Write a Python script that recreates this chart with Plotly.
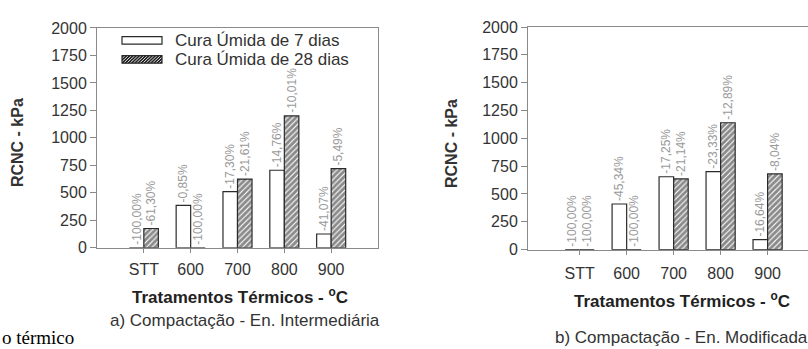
import plotly.graph_objects as go

# Heat-treatment categories
categorias = ["STT", "600", "700", "800", "900"]

# a) Compactação - Energia Intermediária (kPa)
a_7dias = [0, 385, 510, 705, 125]
a_28dias = [175, 0, 625, 1200, 720]
a_rot_7 = ["-100,00%", "-0,85%", "-17,30%", "-14,76%", "-41,07%"]
a_rot_28 = ["-61,30%", "-100,00%", "-21,61%", "-10,01%", "-5,49%"]

# b) Compactação - Energia Modificada (kPa)
b_7dias = [0, 410, 655, 700, 90]
b_28dias = [0, 0, 635, 1140, 680]
b_rot_7 = ["-100,00%", "-45,34%", "-17,25%", "-23,33%", "-16,64%"]
b_rot_28 = ["-100,00%", "-100,00%", "-21,14%", "-12,89%", "-8,04%"]

series_nomes = ["Cura Úmida de 7 dias", "Cura Úmida de 28 dias"]

W, H = 808, 349
FONT = "Liberation Sans, Arial, sans-serif"
EDGE = "#2a2a2a"
LABEL_GRAY = "#9a9a9a"
HATCH = dict(shape="/", fgcolor="#151515", bgcolor="white", size=4, solidity=0.72)


def px(x):
    return x / W


def py(y):
    return 1 - y / H


fig = go.Figure()


def add_pair(v7, v28, r7, r28, xa, ya):
    fig.add_trace(go.Bar(
        x=categorias, y=v7, name=series_nomes[0],
        xaxis=xa, yaxis=ya, showlegend=False,
        marker=dict(color="white", line=dict(color=EDGE, width=1.2)),
        text=r7, textposition="outside", textangle=-90,
        constraintext="none", cliponaxis=False,
        textfont=dict(family=FONT, size=12, color=LABEL_GRAY),
    ))
    fig.add_trace(go.Bar(
        x=categorias, y=v28, name=series_nomes[1],
        xaxis=xa, yaxis=ya, showlegend=False,
        marker=dict(color="white", line=dict(color=EDGE, width=1.2), pattern=HATCH),
        text=r28, textposition="outside", textangle=-90,
        constraintext="none", cliponaxis=False,
        textfont=dict(family=FONT, size=12, color=LABEL_GRAY),
    ))


add_pair(a_7dias, a_28dias, a_rot_7, a_rot_28, "x", "y")
add_pair(b_7dias, b_28dias, b_rot_7, b_rot_28, "x2", "y2")

axis_common = dict(
    showline=True, linecolor="#8a8a8a", linewidth=1,
    showgrid=False, zeroline=False,
    ticks="outside", tickcolor="#8a8a8a",
    tickfont=dict(family=FONT, size=16, color="#333333"),
)

fig.update_layout(
    width=W, height=H, autosize=False,
    margin=dict(l=0, r=0, t=0, b=0),
    paper_bgcolor="white", plot_bgcolor="white",
    barmode="group", bargap=0.38, bargroupgap=0,
    font=dict(family=FONT, color="#333333"),
    showlegend=False,
    xaxis=dict(domain=[px(97), px(378)], anchor="y", type="category",
               range=[-1.0, 5.0], mirror=True, ticklen=4,
               ticklabelstandoff=3, **axis_common),
    yaxis=dict(domain=[py(252), py(21)], anchor="x", range=[0, 2000],
               tickvals=list(range(0, 2001, 250)), mirror=True, ticklen=6,
               **axis_common),
    xaxis2=dict(domain=[px(528), 1.0], anchor="y2", type="category",
                range=[-1.1, 4.86], mirror=True, ticklen=4,
                ticklabelstandoff=5, **axis_common),
    yaxis2=dict(domain=[py(254), py(20)], anchor="x2", range=[0, 2000],
                tickvals=list(range(0, 2001, 250)), mirror=False, ticklen=6,
                **axis_common),
)

# Legend drawn inside panel a): wide key boxes followed by the series names
KEY_X0, KEY_X1 = 122, 162
ROWS = [34, 54]
shapes = []
shapes.append(dict(type="rect", xref="paper", yref="paper",
                   x0=px(KEY_X0), x1=px(KEY_X1), y0=py(ROWS[0] + 4), y1=py(ROWS[0] - 4),
                   line=dict(color=EDGE, width=1.2), fillcolor="white"))
yb, yt = ROWS[1] + 4, ROWS[1] - 4
shapes.append(dict(type="rect", xref="paper", yref="paper",
                   x0=px(KEY_X0), x1=px(KEY_X1), y0=py(yb), y1=py(yt),
                   line=dict(width=0), fillcolor="#222222"))
# light diagonal stripes across the hatched key, clipped to the box
step, rise = 3.2, 8.0
t = KEY_X0 - rise
while t < KEY_X1:
    xa, ya = t, yb
    xb, yb2 = t + rise, yt
    if xa < KEY_X0:
        frac = (KEY_X0 - xa) / rise
        xa, ya = KEY_X0, yb - frac * (yb - yt)
    if xb > KEY_X1:
        frac = (xb - KEY_X1) / rise
        xb, yb2 = KEY_X1, yt + frac * (yb - yt)
    if xb > xa:
        shapes.append(dict(type="line", xref="paper", yref="paper",
                           x0=px(xa), y0=py(ya), x1=px(xb), y1=py(yb2),
                           line=dict(color="#e0e0e0", width=1.0)))
    t += step
shapes.append(dict(type="rect", xref="paper", yref="paper",
                   x0=px(KEY_X0), x1=px(KEY_X1), y0=py(yb), y1=py(yt),
                   line=dict(color=EDGE, width=1.2), fillcolor="rgba(0,0,0,0)"))
fig.update_layout(shapes=shapes)

annots = [
    dict(text=series_nomes[0], x=px(173), y=py(ROWS[0]), xanchor="left",
         font=dict(size=17, color="#333333")),
    dict(text=series_nomes[1], x=px(173), y=py(ROWS[1]), xanchor="left",
         font=dict(size=17, color="#333333")),
    dict(text="<b>RCNC - kPa</b>", x=px(17), y=py(142), textangle=-90,
         font=dict(size=16, color="#333333")),
    dict(text="<b>RCNC - kPa</b>", x=px(451), y=py(143), textangle=-90,
         font=dict(size=16, color="#333333")),
    dict(text="<b>Tratamentos Térmicos - <sup>o</sup>C</b>", x=px(240), y=py(303),
         font=dict(size=17, color="#222222")),
    dict(text="<b>Tratamentos Térmicos - <sup>o</sup>C</b>", x=px(682), y=py(307),
         font=dict(size=17, color="#222222")),
    dict(text="a) Compactação - En. Intermediária", x=px(245), y=py(328),
         font=dict(size=17, color="#333333")),
    dict(text="b) Compactação - En. Modificada", x=px(681), y=py(346),
         font=dict(size=17, color="#333333")),
]
for a in annots:
    a.setdefault("xanchor", "center")
    a.update(xref="paper", yref="paper", showarrow=False, yanchor="middle")
    a["font"]["family"] = FONT
    fig.add_annotation(**a)

fig.add_annotation(text="o térmico", xref="paper", yref="paper",
                   x=0, y=py(333), xanchor="left", yanchor="top", showarrow=False,
                   font=dict(family="Liberation Serif, Times New Roman, serif",
                             size=19, color="#000000"))

fig.write_html("out.html")
